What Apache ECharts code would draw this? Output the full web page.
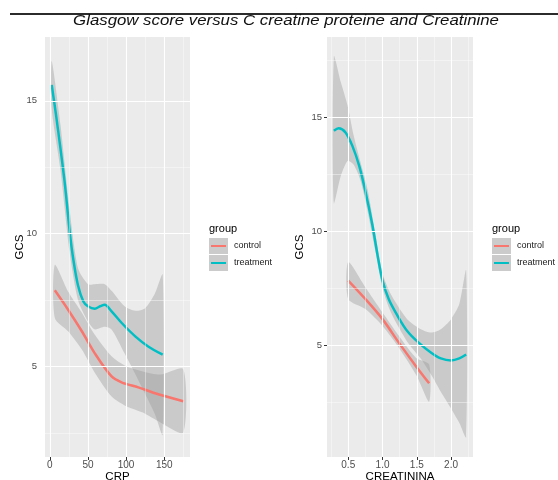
<!DOCTYPE html>
<html>
<head>
<meta charset="utf-8">
<script src="https://cdn.jsdelivr.net/npm/echarts@6/dist/echarts.min.js"></script>
<style>
html,body{margin:0;padding:0;background:#fff;}
#chart{width:558px;height:480px;}
</style>
</head>
<body>
<div id="chart"></div>
<script>
// ---- Data ----
var titleText = 'Glasgow score versus C creatine proteine and Creatinine';
var groups = ['control', 'treatment'];
var yTicks = [5, 10, 15];
var crpTicks = [0, 50, 100, 150];
var creaTicks = [0.5, 1.0, 1.5, 2.0];
var creaTickLabels = ['0.5', '1.0', '1.5', '2.0'];

// Left panel: CRP
var crpControlX = [6.6, 24, 42, 59, 81, 94, 116, 138, 175];
var crpControlY = [7.87, 7.14, 6.33, 5.5, 4.63, 4.41, 4.22, 4.0, 3.7];
var crpControlBandX = [6.6, 24, 42, 59, 81, 101, 122, 145, 175];
var crpControlUpper = [8.83, 7.83, 7.03, 6.2, 5.39, 5.0, 4.82, 4.7, 4.9];
var crpControlLower = [6.83, 6.33, 5.64, 4.77, 3.88, 3.5, 3.27, 2.9, 2.52];

var crpTreatX = [2.5, 8, 14, 20, 26, 31, 37, 44, 50, 59, 66, 72, 81, 94, 112, 129, 148];
var crpTreatY = [15.6, 14.5, 13.2, 11.8, 10.1, 9.0, 8.05, 7.45, 7.27, 7.18, 7.27, 7.33, 7.08, 6.65, 6.14, 5.76, 5.45];
var crpTreatBandX = [2.5, 14, 26, 37, 50, 59, 72, 81, 98, 112, 125, 138, 148];
var crpTreatUpper = [16.5, 14.1, 10.9, 8.7, 8.1, 8.1, 8.1, 7.85, 7.27, 7.1, 7.2, 7.76, 8.46];
var crpTreatLower = [14.7, 12.4, 9.3, 7.5, 6.7, 6.4, 6.5, 6.4, 5.5, 4.72, 3.97, 3.2, 2.44];

// Right panel: CREATININA
var creaControlX = [0.5, 0.75, 1.0, 1.24, 1.49, 1.68];
var creaControlY = [7.83, 7.02, 6.14, 5.1, 4.07, 3.33];
var creaControlUpper = [8.64, 7.54, 6.43, 5.4, 4.44, 4.15];
var creaControlLower = [7.02, 6.58, 5.84, 4.88, 3.7, 2.52];

var creaTreatX = [0.29, 0.36, 0.46, 0.56, 0.66, 0.75, 0.85, 0.93, 1.0, 1.09, 1.22, 1.36, 1.53, 1.71, 1.85, 2.0, 2.12, 2.22];
var creaTreatY = [14.39, 14.5, 14.32, 13.73, 12.85, 11.74, 10.3, 8.9, 7.83, 7.02, 6.28, 5.62, 5.1, 4.67, 4.42, 4.33, 4.42, 4.59];
var creaTreatBandX = [0.29, 0.39, 0.49, 0.58, 0.68, 0.78, 0.9, 1.0, 1.12, 1.36, 1.56, 1.71, 1.85, 2.0, 2.12, 2.22];
var creaTreatUpper = [17.64, 16.54, 15.5, 14.17, 13.0, 11.85, 9.8, 8.15, 7.24, 6.14, 5.7, 5.55, 5.7, 6.14, 6.8, 8.27];
var creaTreatLower = [11.23, 12.4, 13.07, 12.9, 12.2, 10.9, 9.05, 7.5, 6.45, 5.15, 4.4, 3.7, 2.96, 2.23, 1.6, 0.97];

// gridline values
var crpMinor = [25, 75, 125, 175];
var creaMinor = [0.25, 0.75, 1.25, 1.75, 2.25];
var yMinorLeft = [2.5, 7.5, 12.5];
var yMinorRight = [2.5, 7.5, 12.5, 17.5];

// ---- Styles ----
var RED = '#F8766D', TEAL = '#00BFC4';
var BAND = 'rgba(153,153,153,0.4)';
var FONT = 'Liberation Sans, Arial, sans-serif';

function zip(xs, ys) { return xs.map(function (x, i) { return [x, ys[i]]; }); }

function band(idx, xs, up, lo) {
  return {
    type: 'custom', xAxisIndex: idx, yAxisIndex: idx, z: 2, silent: true, clip: true,
    data: [[xs[0], up[0]]],
    renderItem: function (params, api) {
      var top = [], bot = [];
      for (var i = 0; i < xs.length; i++) top.push(api.coord([xs[i], up[i]]));
      for (var j = xs.length - 1; j >= 0; j--) bot.push(api.coord([xs[j], lo[j]]));
      return {
        type: 'group',
        children: [{
          type: 'polygon',
          shape: { points: top.concat(bot), smooth: 0.25 },
          style: { fill: BAND, stroke: null }
        }]
      };
    }
  };
}

function line(idx, xs, ys, color) {
  return {
    type: 'line', xAxisIndex: idx, yAxisIndex: idx, z: 3, silent: true,
    data: zip(xs, ys), smooth: 0.3, showSymbol: false, symbol: 'none',
    lineStyle: { color: color, width: 2.5 }, itemStyle: { color: color }
  };
}

function gridLines(idx, xMaj, xMin, yMaj, yMin) {
  var d = [];
  xMaj.forEach(function (v) { d.push({ xAxis: v, lineStyle: { color: '#fff', width: 1.1, type: 'solid' } }); });
  xMin.forEach(function (v) { d.push({ xAxis: v, lineStyle: { color: 'rgba(255,255,255,0.7)', width: 0.6, type: 'solid' } }); });
  yMaj.forEach(function (v) { d.push({ yAxis: v, lineStyle: { color: '#fff', width: 1.1, type: 'solid' } }); });
  yMin.forEach(function (v) { d.push({ yAxis: v, lineStyle: { color: 'rgba(255,255,255,0.7)', width: 0.6, type: 'solid' } }); });
  return {
    type: 'line', xAxisIndex: idx, yAxisIndex: idx, z: 1, silent: true, data: [],
    markLine: { silent: true, symbol: ['none', 'none'], label: { show: false }, animation: false, data: d }
  };
}

function xAx(idx, min, max, ticks, name, fmt) {
  return {
    type: 'value', gridIndex: idx, min: min, max: max,
    splitLine: { show: false }, axisLine: { show: false },
    axisTick: { show: true, customValues: ticks, length: 3, lineStyle: { color: '#333', width: 1 } },
    axisLabel: { customValues: ticks, color: '#4D4D4D', fontSize: 10, margin: 3, fontFamily: FONT, formatter: fmt },
    name: name, nameLocation: 'middle', nameGap: 20, nameMoveOverlap: false,
    nameTextStyle: { color: '#000', fontSize: 11.5, fontFamily: FONT, verticalAlign: 'middle' }
  };
}
function yAx(idx, min, max, margin, gap) {
  return {
    type: 'value', gridIndex: idx, min: min, max: max,
    splitLine: { show: false }, axisLine: { show: false },
    axisTick: { show: true, customValues: yTicks, length: 3, lineStyle: { color: '#333', width: 1 } },
    axisLabel: { customValues: yTicks, color: '#4D4D4D', fontSize: 9.5, margin: margin, fontFamily: FONT },
    name: 'GCS', nameLocation: 'middle', nameGap: gap, nameRotate: 90, nameMoveOverlap: false,
    nameTextStyle: { color: '#000', fontSize: 11.5, fontFamily: FONT }
  };
}

function legend(x) {
  return [
    { type: 'text', left: x, top: 223, style: { text: 'group', fill: '#000', font: '11px ' + FONT } },
    { type: 'rect', shape: { x: x, y: 238, width: 19, height: 16 }, style: { fill: '#CBCBCB' } },
    { type: 'line', shape: { x1: x + 2, y1: 246, x2: x + 17, y2: 246 }, style: { stroke: RED, lineWidth: 2 } },
    { type: 'rect', shape: { x: x, y: 255, width: 19, height: 16 }, style: { fill: '#CBCBCB' } },
    { type: 'line', shape: { x1: x + 2, y1: 263, x2: x + 17, y2: 263 }, style: { stroke: TEAL, lineWidth: 2 } },
    { type: 'text', left: x + 25, top: 241, style: { text: groups[0], fill: '#1a1a1a', font: '9px ' + FONT } },
    { type: 'text', left: x + 25, top: 258, style: { text: groups[1], fill: '#1a1a1a', font: '9px ' + FONT } }
  ];
}

var chart = echarts.init(document.getElementById('chart'), null, { renderer: 'canvas' });
var option = {
  animation: false,
  backgroundColor: '#fff',
  grid: [
    { left: 45, top: 37, width: 145, height: 420, show: true, backgroundColor: '#EBEBEB', borderWidth: 0, containLabel: false, outerBoundsMode: 'none' },
    { left: 327, top: 37, width: 146, height: 420, show: true, backgroundColor: '#EBEBEB', borderWidth: 0, containLabel: false, outerBoundsMode: 'none' }
  ],
  xAxis: [
    xAx(0, -6.3, 183.8, crpTicks, 'CRP'),
    xAx(1, 0.19, 2.32, creaTicks, 'CREATININA', function (v) { return creaTickLabels[creaTicks.indexOf(v)] || v.toFixed(1); })
  ],
  yAxis: [yAx(0, 1.6, 17.4, 8, 19), yAx(1, 0.1, 18.5, 5, 21)],
  series: [
    gridLines(0, crpTicks, crpMinor, yTicks, yMinorLeft),
    gridLines(1, creaTicks, creaMinor, yTicks, yMinorRight),
    band(0, crpControlBandX, crpControlUpper, crpControlLower),
    band(0, crpTreatBandX, crpTreatUpper, crpTreatLower),
    band(1, creaControlX, creaControlUpper, creaControlLower),
    band(1, creaTreatBandX, creaTreatUpper, creaTreatLower),
    line(0, crpControlX, crpControlY, RED),
    line(0, crpTreatX, crpTreatY, TEAL),
    line(1, creaControlX, creaControlY, RED),
    line(1, creaTreatX, creaTreatY, TEAL)
  ],
  graphic: [
    { type: 'line', shape: { x1: 10, y1: 14, x2: 558, y2: 14 }, style: { stroke: '#2b2b2b', lineWidth: 2 } },
    { type: 'text', x: 286, y: 21, scaleX: 1.2, style: { text: titleText, fill: '#111', font: 'italic 14px ' + FONT, textAlign: 'center', textVerticalAlign: 'middle' } }
  ].concat(legend(209)).concat(legend(492))
};
chart.setOption(option);
</script>
</body>
</html>
